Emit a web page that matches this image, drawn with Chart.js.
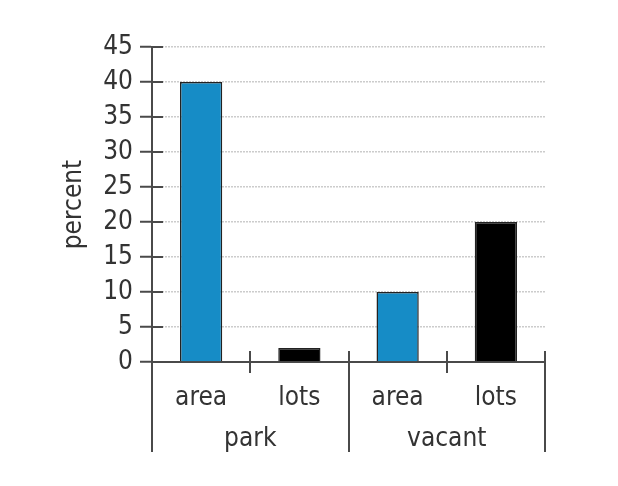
<!DOCTYPE html>
<html>
<head>
<meta charset="utf-8">
<script src="https://cdn.jsdelivr.net/npm/chart.js@4"></script>
<style>
  html, body { margin: 0; padding: 0; background: #fff; }
  #wrap { width: 618px; height: 486px; }
</style>
</head>
<body>
<div id="wrap"><canvas id="grafiek" width="618" height="486"></canvas></div>
<script>
// data
const subLabels = ['area', 'lots', 'area', 'lots'];
const groupLabels = ['park', 'vacant'];
const percent = [40, 2, 10, 20];
const barColors = ['#168cc6', '#000000', '#168cc6', '#000000'];

const FONT = '"DejaVu Sans Condensed", "DejaVu Sans", sans-serif';
const DARK = '#4a4a4a';
const font = { family: FONT, size: 26 };

// scheidingslijnen onder de x-as (per categorie en per groep) + tick-stukjes binnen de as
const separators = {
    id: 'separators',
    afterDraw(chart) {
        const x = chart.scales.x;
        const x2 = chart.scales.x2;
        const y = chart.scales.y;
        const area = chart.chartArea;
        const ctx = chart.ctx;
        ctx.save();
        ctx.strokeStyle = DARK;
        ctx.lineWidth = 2;
        for (let i = 0; i <= subLabels.length; i++) {
            const px = Math.round(x.getPixelForValue(i - 0.5));
            const end = (i % 2 === 0) ? x2.bottom : area.bottom + 11;
            ctx.beginPath();
            ctx.moveTo(px, area.bottom - 11);
            ctx.lineTo(px, end);
            ctx.stroke();
        }
        y.ticks.forEach(t => {
            const py = Math.round(y.getPixelForValue(t.value));
            ctx.beginPath();
            ctx.moveTo(area.left, py);
            ctx.lineTo(area.left + 11, py);
            ctx.stroke();
        });
        ctx.restore();
    }
};

new Chart(document.getElementById('grafiek'), {
    type: 'bar',
    data: {
        labels: subLabels,
        datasets: [{
            data: percent,
            backgroundColor: barColors,
            borderColor: '#222',
            borderWidth: 1.5,
            barPercentage: 0.43,
            categoryPercentage: 1
        }]
    },
    options: {
        responsive: false,
        animation: false,
        layout: { padding: { left: 59, right: 73, top: 47, bottom: 34 } },
        plugins: { legend: { display: false }, tooltip: { enabled: false } },
        scales: {
            y: {
                min: 0,
                max: 45,
                ticks: { stepSize: 5, padding: 7, color: '#333', font: font },
                grid: { color: '#cccccc', lineWidth: 1.5, tickLength: 12, tickColor: DARK, tickWidth: 2, tickBorderDash: [] },
                border: { color: DARK, width: 2, dash: [2, 1] },
                title: { display: true, text: 'percent', color: '#333', font: font, padding: 0 },
                afterFit: s => { s.width = 152 - 59; }
            },
            x: {
                offset: true,
                grid: { display: false, drawTicks: false },
                border: { color: DARK, width: 2 },
                ticks: { padding: 21, color: '#333', font: font },
                afterFit: s => { s.height = 48; }
            },
            x2: {
                type: 'category',
                labels: groupLabels,
                position: 'bottom',
                offset: true,
                grid: { display: false, drawTicks: false },
                border: { display: false },
                ticks: { padding: 14, color: '#333', font: font },
                afterFit: s => { s.height = 42; }
            }
        }
    },
    plugins: [separators]
});
</script>
</body>
</html>
